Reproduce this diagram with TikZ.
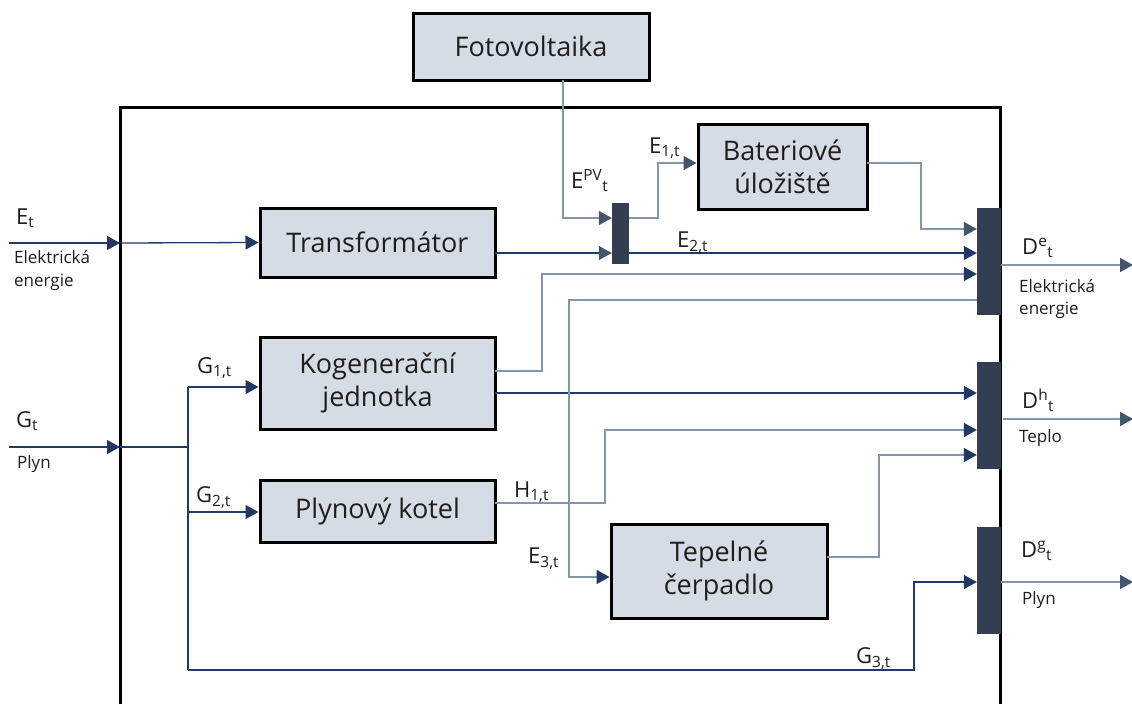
\documentclass[tikz,border=0pt]{standalone}
\usepackage{fontspec}
\setmainfont{Open Sans}
\usetikzlibrary{arrows.meta}
\definecolor{navyline}{HTML}{23396A}
\definecolor{slateline}{HTML}{8595AE}
\definecolor{navytip}{HTML}{203864}
\definecolor{greytip}{HTML}{44546A}
\definecolor{boxfill}{HTML}{D6DCE5}
\definecolor{barfill}{HTML}{333F50}
\definecolor{txt}{HTML}{1E1E1E}
\begin{document}
\begin{tikzpicture}[x=1pt,y=-1pt,
  box/.style={draw=black, line width=3pt, fill=boxfill, inner sep=0pt, align=center,
    text=txt, font=\fontsize{27}{33}\selectfont},
  bar/.style={fill=barfill, draw=none, inner sep=0pt, minimum width=24pt, minimum height=107pt},
  nl/.style={draw=navyline, line width=1.3pt},
  sl/.style={draw=slateline, line width=1.8pt},
  na/.style={-{Triangle[length=13pt,width=14pt,fill=navytip,color=navytip]}},
  ga/.style={-{Triangle[length=13pt,width=14pt,fill=greytip,color=greytip]}},
  lab/.style={inner sep=0pt, anchor=base west, text=txt, font=\fontsize{22}{26}\selectfont},
  sm/.style={inner sep=0pt, anchor=base west, text=txt, font=\fontsize{17}{20}\selectfont}
]
\useasboundingbox (0,0) rectangle (1132,704);
\fill[white] (0,0) rectangle (1132,704);

% frame
\draw[black, line width=3pt] (120,704) -- (120,107) -- (1000,107) -- (1000,704);

% boxes
\node[box, minimum width=236pt, minimum height=67pt] (fv) at (531,46.5) {Fotovoltaika};
\node[box, minimum width=235pt, minimum height=69pt] (trafo) at (377.5,242.5) {Transformátor};
\node[box, minimum width=235pt, minimum height=92pt] (kogen) at (377.5,383) {Kogenerační\\jednotka};
\node[box, minimum width=235pt, minimum height=62pt] (kotel) at (377.5,511) {Plynový kotel};
\node[box, minimum width=169pt, minimum height=85pt] (bat) at (782.5,166.5) {Bateriové\\úložiště};
\node[box, minimum width=216pt, minimum height=94pt] (tep) at (719,571) {Tepelné\\čerpadlo};

% bars
\node[bar, minimum width=17pt, minimum height=61pt] (sp) at (620.5,233.5) {};
\node[bar] (de) at (989,261.5) {};
\node[bar] (dh) at (989,415.5) {};
\node[bar] (dg) at (989,580.5) {};

% coordinates
\coordinate (ein) at (9,243);
\coordinate (ef) at (120,243);
\coordinate (gin) at (9,447);
\coordinate (gf) at (120,447);
\coordinate (gj) at (188,447);
\coordinate (g1) at (188,387);
\coordinate (g2) at (188,512);
\coordinate (g3a) at (188,670);
\coordinate (g3b) at (914,670);
\coordinate (g3c) at (914,582);
\coordinate (pv1) at (563,80);
\coordinate (pv2) at (563,218);
\coordinate (t1) at (495,253);
\coordinate (e1b) at (658,218);
\coordinate (e1a) at (658,163);
\coordinate (b1) at (867,163);
\coordinate (b2) at (921,163);
\coordinate (b3) at (921,229);
\coordinate (k1) at (495,371);
\coordinate (k2) at (542,371);
\coordinate (k3) at (542,274);
\coordinate (e3a) at (977,300);
\coordinate (e3b) at (569,300);
\coordinate (e3c) at (569,577);
\coordinate (k4) at (495,393);
\coordinate (h1) at (495,503);
\coordinate (h2) at (605,503);
\coordinate (h3) at (605,430);
\coordinate (p1) at (827,557);
\coordinate (p2) at (879,557);
\coordinate (p3) at (879,455);
\coordinate (oe) at (1001,265);
\coordinate (oh) at (1003,419);
\coordinate (og) at (1001,582);
\coordinate (oee) at (1133,265);
\coordinate (ohe) at (1133,419);
\coordinate (oge) at (1133,582);

% inputs
\draw[nl, na] (ein) -- (ef);
\draw[nl, na] (ef) -- (trafo.west);
\draw[nl, na] (gin) -- (gf);
\draw[nl] (gf) -- (gj);
\draw[nl] (g1) -- (g3a);
\draw[nl, na] (g1) -- (g1 -| kogen.west);
\draw[nl, na] (g2) -- (g2 -| kotel.west);
\draw[nl, na] (g3a) -- (g3b) -- (g3c) -- (g3c -| dg.west);

% PV and splitter
\draw[sl, ga] (pv1) -- (pv2) -- (pv2 -| sp.west);
\draw[nl, ga] (t1) -- (t1 -| sp.west);
\draw[nl, na] (t1 -| sp.east) -- (t1 -| de.west);
\draw[sl, ga] (pv2 -| sp.east) -- (e1b) -- (e1a) -- (e1a -| bat.west);
\draw[sl, ga] (b1) -- (b2) -- (b3) -- (b3 -| de.west);

% cogeneration
\draw[sl, na] (k1) -- (k2) -- (k3) -- (k3 -| de.west);
\draw[nl, na] (k4) -- (k4 -| dh.west);
\draw[sl, na] (e3a) -- (e3b) -- (e3c) -- (e3c -| tep.west);
\draw[sl, na] (h1) -- (h2) -- (h3) -- (h3 -| dh.west);
\draw[sl, na] (p1) -- (p2) -- (p3) -- (p3 -| dh.west);

% outputs
\draw[sl, ga] (oe) -- (oee);
\draw[sl, ga] (oh) -- (ohe);
\draw[sl, ga] (og) -- (oge);

% labels
\node[lab] (lEt) at (16,224) {E\textsubscript{t}};
\node[sm] (lEl1) at (14,263) {Elektrická};
\node[sm] (lEl2) at (14,286) {energie};
\node[lab] (lGt) at (16,427) {G\textsubscript{t}};
\node[sm] (lPl) at (17,468) {Plyn};
\node[lab] (lG1) at (197,373) {G\textsubscript{1,t}};
\node[lab] (lG2) at (196,502) {G\textsubscript{2,t}};
\node[lab] (lG3) at (856,663) {G\textsubscript{3,t}};
\node[lab] (lH1) at (514,497) {H\textsubscript{1,t}};
\node[lab] (lE3) at (528,563) {E\textsubscript{3,t}};
\node[lab] (lEpv) at (571,188) {E\textsuperscript{PV}\textsubscript{t}};
\node[lab] (lE1) at (649,153) {E\textsubscript{1,t}};
\node[lab] (lE2) at (677,247) {E\textsubscript{2,t}};
\node[lab] (lDe) at (1022,254) {D\textsuperscript{e}\textsubscript{t}};
\node[sm] (lDe1) at (1019,292) {Elektrická};
\node[sm] (lDe2) at (1019,314) {energie};
\node[lab] (lDh) at (1022,408) {D\textsuperscript{h}\textsubscript{t}};
\node[sm] (lTe) at (1019,442) {Teplo};
\node[lab] (lDg) at (1021,557) {D\textsuperscript{g}\textsubscript{t}};
\node[sm] (lPl2) at (1022,604) {Plyn};
\end{tikzpicture}
\end{document}
